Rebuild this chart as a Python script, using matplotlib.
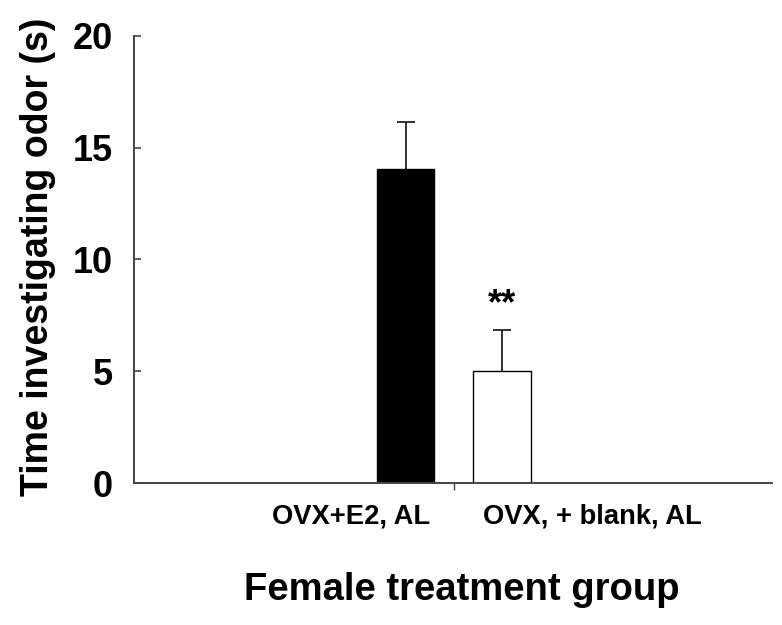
import matplotlib
matplotlib.use("Agg")
import matplotlib.pyplot as plt

groups = ["OVX+E2, AL", "OVX, + blank, AL"]
means = [14.05, 5.0]
sem = [2.1, 1.85]
colors = ["black", "white"]
yticks = [0, 5, 10, 15, 20]
sig_label = "**"

plt.rcParams['font.family'] = ['Liberation Sans', 'DejaVu Sans']
plt.rcParams['font.weight'] = 'bold'

fig = plt.figure(figsize=(7.82, 6.25), dpi=100)
ax = fig.add_axes([134/782, 1-483.3/625, (772-134)/782, (483.3-35.7)/625])

x = [0, 1]
ax.bar(x, means, width=0.594, color=colors, edgecolor='black', linewidth=1.0, zorder=2)
eb = ax.errorbar(x, means, yerr=[[0, 0], sem], fmt='none', ecolor='#222222',
                 elinewidth=1.3, capsize=6.5, capthick=1.3, zorder=1)
caps = eb[1]
if len(caps) == 2:
    caps[0].set_visible(False)

ax.set_xlim(-2.83, 3.81)
ax.set_ylim(0, 20)
ax.set_yticks(yticks)
ax.set_yticklabels([str(v) for v in yticks], fontsize=26, fontweight='bold')
ax.tick_params(axis='y', direction='in', length=5, width=1.2, color='#444444', pad=15)
ax.set_xticks([0.5])
ax.set_xticklabels([''])
ax.tick_params(axis='x', direction='out', length=5, width=1.0, color='#444444')

for s in ['top', 'right']:
    ax.spines[s].set_visible(False)
for s in ['left', 'bottom']:
    ax.spines[s].set_color('#444444')
    ax.spines[s].set_linewidth(1.4)

# significance marker
ax.text(x[1], means[1] + sem[1] + 0.35, sig_label, ha='center', va='bottom',
        fontsize=26, fontweight='bold')

# category labels
label_pos = [0.340, 0.719]
for lab, px in zip(groups, label_pos):
    ax.text(px, -0.075, lab, transform=ax.transAxes, ha='center', va='center',
            fontsize=19.7, fontweight='bold')

fig.text(461.5/782, 1-600/625, "Female treatment group", ha='center', va='baseline',
         fontsize=27.5, fontweight='bold')
fig.text(38/782, 1-257/625, "Time investigating odor (s)", ha='center', va='center',
         rotation=90, fontsize=27, fontweight='bold')

fig.savefig("out.png", dpi=100)
